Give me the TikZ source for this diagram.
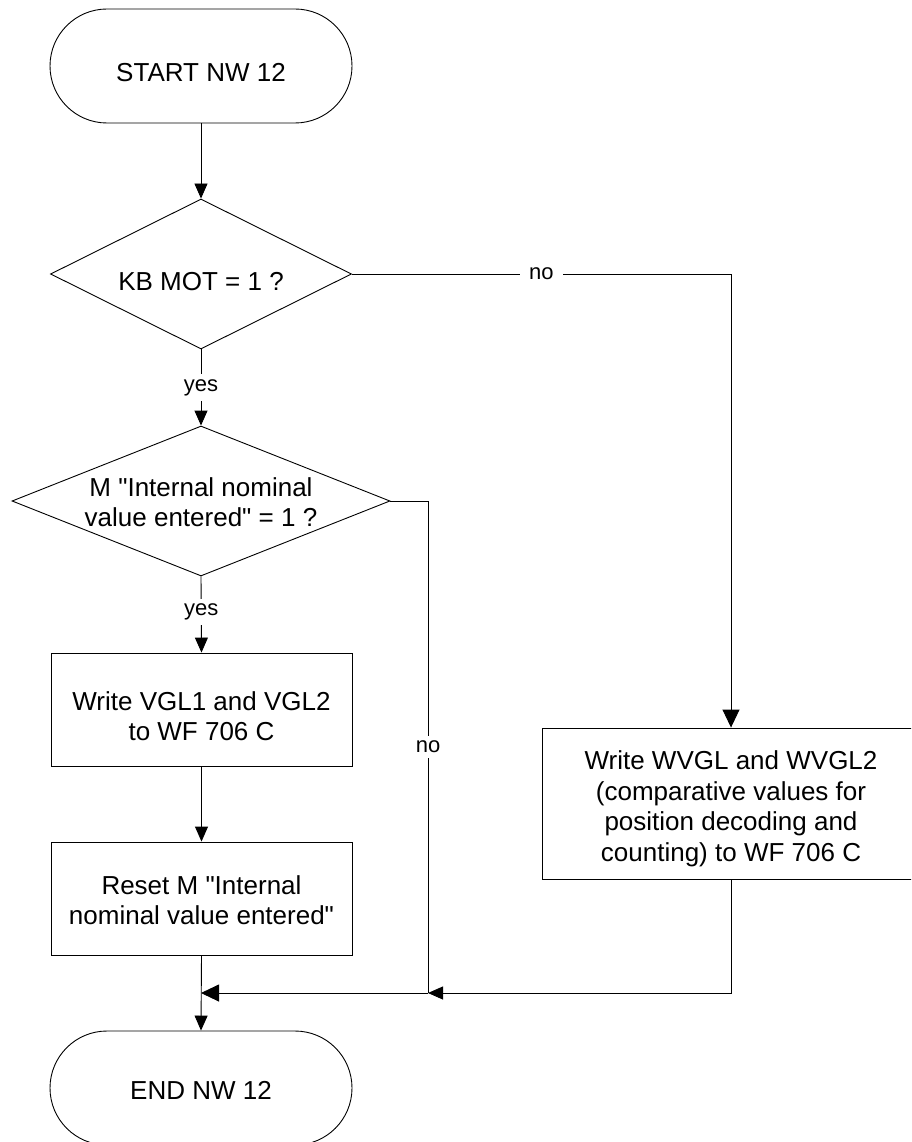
\documentclass[tikz,border=0pt]{standalone}
\usepackage{fontspec}
\setmainfont{Liberation Sans}[Ligatures=TeXOff]
\usetikzlibrary{shapes.geometric,shapes.misc,arrows.meta}
\begin{document}
\begin{tikzpicture}[x=1pt,y=-1pt,
  line width=0.9pt,
  term/.style={rounded rectangle, draw, minimum width=302pt, minimum height=114pt, inner sep=0pt},
  dec/.style={diamond, draw, inner sep=0pt},
  proc/.style={rectangle, draw, inner sep=0pt},
  txt/.style={align=center, font=\fontsize{26pt}{30.5pt}\selectfont, inner sep=0pt},
  lbl/.style={fill=white, font=\fontsize{22pt}{25pt}\selectfont, inner xsep=9pt, inner ysep=5pt},
  arr/.style={-{Triangle[length=15pt,width=13pt]}},
  bigarr/.style={-{Triangle[length=18pt,width=17pt]}}]
\useasboundingbox (0,0) rectangle (911,1142);
\clip (0,0) rectangle (911,1142);
\fill[white] (0,0) rectangle (911,1142);

% shapes
\node[term] (start) at (201,66) {};
\node[txt] (starttxt) at (201,73) {START NW 12};

\node[dec, minimum width=301pt, minimum height=150pt] (d1) at (201,274) {};
\node[txt] (d1txt) at (201,282) {KB MOT = 1 ?};

\node[dec, minimum width=378pt, minimum height=150pt] (d2) at (201,501) {};
\node[txt] (d2txt) at (201,502) {M "Internal nominal\\value entered" = 1 ?};

\node[proc, minimum width=301pt, minimum height=113pt] (b1) at (201.5,709.5) {};
\node[txt] (b1txt) at (201.5,716) {Write VGL1 and VGL2\\to WF 706 C};

\node[proc, minimum width=301pt, minimum height=113pt] (b2) at (201.5,898.5) {};
\node[txt] (b2txt) at (201.5,900) {Reset M "Internal\\nominal value entered"};

\node[proc, minimum width=378pt, minimum height=151pt] (b3) at (731,803.5) {};
\node[txt] (b3txt) at (731,809) {Write WVGL and WVGL2\\(comparative values for\\position decoding and\\counting) to WF 706 C};

\node[term] (end) at (201,1088) {};
\node[txt] (endtxt) at (201,1090) {END NW 12};

\coordinate (m1) at (201,993);
\coordinate (m2) at (428,993);

% connectors
\draw[arr] (start.south) -- (d1.north);
\draw[bigarr] (d1.east) -| node[lbl, pos=0.25] {no} (b3.north);
\draw[arr] (d1.south) -- node[lbl, pos=0.5] {yes} (d2.north);
\draw (d2.east) -| node[lbl, pos=0.75] {no} (m2);
\draw[arr] (d2.south) -- node[lbl, pos=0.47] {yes} (b1.north);
\draw[arr] (b1.south) -- (b2.north);
\draw[arr] (b3.south) |- (m2);
\draw[bigarr] (m2) -- (m1);
\draw[arr] (b2.south) -- (end.north);
\end{tikzpicture}
\end{document}
